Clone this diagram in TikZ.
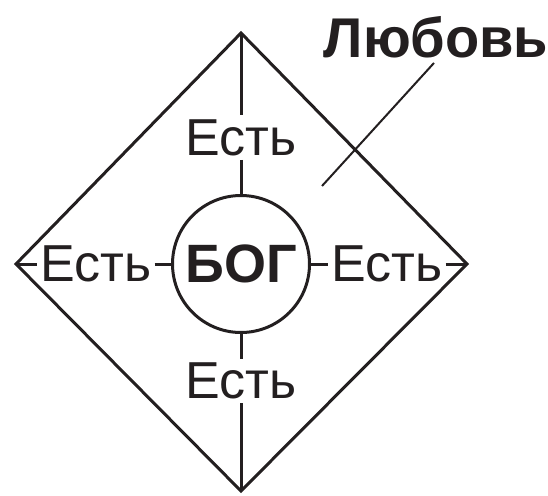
\documentclass[tikz,border=0pt]{standalone}
\usepackage{fontspec}
\setmainfont{Liberation Sans}
\usetikzlibrary{calc}
\definecolor{Ink}{RGB}{35,31,32}

\begin{document}
\begin{tikzpicture}[x=1pt, y=-1pt,
    word/.style={font=\fontsize{52}{62}\selectfont, text=Ink, inner xsep=3pt, inner ysep=4pt},
    edge/.style={draw=Ink, line width=3pt}]
    \useasboundingbox (0,0) rectangle (548,495);

    % Corners of the square
    \coordinate (top) at (241,33);
    \coordinate (left) at (16,264);
    \coordinate (right) at (467,264);
    \coordinate (bottom) at (241,491);

    \node[circle, draw=Ink, line width=3pt, minimum size=137pt, inner sep=0pt,
        font=\fontsize{54}{64}\selectfont\bfseries, text=Ink] (god) at (241,264) {БОГ};
    \node[word] (isN) at (241,137.5) {Есть};
    \node[word] (isS) at (241,381) {Есть};
    \node[word] (isW) at (96,264) {Есть};
    \node[word] (isE) at (387,264) {Есть};

    \draw[edge, line join=miter] (top) -- (right) -- (bottom) -- (left) -- cycle;
    \draw[edge] (top) -- (isN.north);
    \draw[edge] (isN.south) -- (god.north);
    \draw[edge] (god.south) -- (isS.north);
    \draw[edge] (isS.south) -- (bottom);
    \draw[edge] (left) -- (isW.west);
    \draw[edge] (isW.east) -- (god.west);
    \draw[edge] (god.east) -- (isE.west);
    \draw[edge] (isE.east) -- (right);

    % Label
    \node[font=\fontsize{56}{66}\selectfont\bfseries, text=Ink, inner sep=3pt, anchor=base] (love) at (436,57) {Любовь};
    \coordinate (loveend) at (322,186);
    \draw[Ink, line width=2pt, shorten <=3pt] (love.south) -- (loveend);
\end{tikzpicture}
\end{document}
